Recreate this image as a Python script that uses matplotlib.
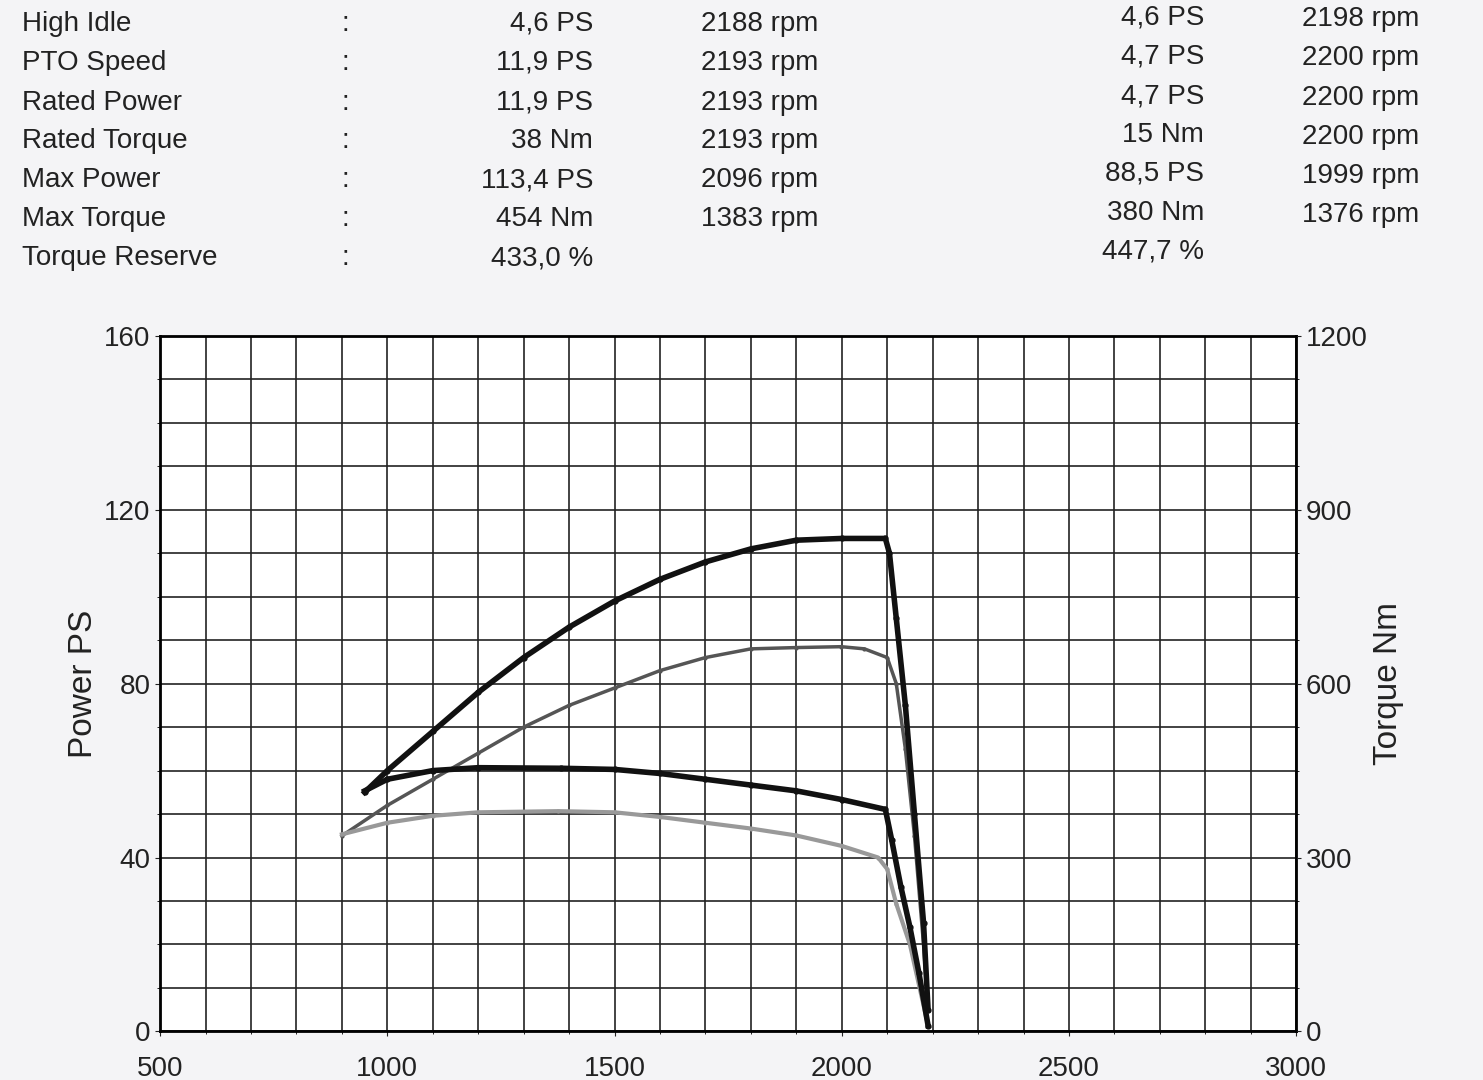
import matplotlib
matplotlib.use("Agg")
import matplotlib.pyplot as plt
import numpy as np

labels = ["High Idle", "PTO Speed", "Rated Power", "Rated Torque", "Max Power", "Max Torque", "Torque Reserve"]
val1 = ["4,6 PS", "11,9 PS", "11,9 PS", "38 Nm", "113,4 PS", "454 Nm", "433,0 %"]
rpm1 = ["2188 rpm", "2193 rpm", "2193 rpm", "2193 rpm", "2096 rpm", "1383 rpm", ""]
val2 = ["4,6 PS", "4,7 PS", "4,7 PS", "15 Nm", "88,5 PS", "380 Nm", "447,7 %"]
rpm2 = ["2198 rpm", "2200 rpm", "2200 rpm", "2200 rpm", "1999 rpm", "1376 rpm", ""]

p1_rpm = [950,1000,1100,1200,1300,1400,1500,1600,1700,1800,1900,2000,2096,2105,2120,2140,2160,2180,2190]
p1_ps  = [55,60,69,78,86,93,99,104,108,111,113,113.4,113.4,110,95,75,50,25,5]
t1_rpm = [950,1000,1100,1200,1383,1500,1600,1700,1800,1900,2000,2096,2110,2130,2150,2170,2190]
t1_nm  = [415,435,450,455,454,452,445,435,425,415,400,383,330,250,180,100,10]
p2_rpm = [900,1000,1100,1200,1300,1400,1500,1600,1700,1800,1900,1999,2050,2100,2120,2140,2160,2180,2190]
p2_ps  = [45,52,58,64,70,75,79,83,86,88,88.3,88.5,88,86,80,65,45,20,5]
t2_rpm = [900,1000,1100,1200,1376,1500,1600,1700,1800,1900,2000,2080,2100,2120,2150,2170,2190]
t2_nm  = [340,360,372,378,380,378,370,360,350,338,320,300,280,220,150,80,10]

plt.rcParams['font.family'] = ['Liberation Sans', 'DejaVu Sans']
fig = plt.figure(figsize=(14.83, 10.8), dpi=100)
fig.patch.set_facecolor('#f4f4f6')

ys = [0.978, 0.942, 0.905, 0.869, 0.833, 0.797, 0.761]
for i, y in enumerate(ys):
    fig.text(0.015, y, labels[i], fontsize=20, va='center', color='#222')
    fig.text(0.23, y, ":", fontsize=20, va='center', color='#222')
    fig.text(0.40, y, val1[i], fontsize=20, va='center', ha='right', color='#222')
    fig.text(0.552, y, rpm1[i], fontsize=20, va='center', ha='right', color='#222')
    fig.text(0.812, y + 0.006, val2[i], fontsize=20, va='center', ha='right', color='#222')
    fig.text(0.957, y + 0.004, rpm2[i], fontsize=20, va='center', ha='right', color='#222')

ax = fig.add_axes([0.108, 0.045, 0.766, 0.644])
ax.set_facecolor('white')
ax.set_xlim(500, 3000)
ax.set_ylim(0, 160)
ax.set_xticks(np.arange(500, 3001, 100), minor=True)
ax.set_xticks([500, 1000, 1500, 2000, 2500, 3000])
ax.set_yticks([0, 40, 80, 120, 160])
ax.set_yticks(np.arange(0, 161, 10), minor=True)
ax.grid(True, which='both', color='#222', linewidth=1.2)
ax.tick_params(labelsize=20, colors='#222')
ax.tick_params(axis='x', pad=14)
ax.set_ylabel("Power PS", fontsize=24, color='#222')
for s in ax.spines.values():
    s.set_linewidth(2)
ax2 = ax.twinx()
ax2.set_ylim(0, 1200)
ax2.set_yticks([0, 300, 600, 900, 1200])
ax2.set_yticks(np.arange(0, 1201, 75), minor=True)
ax2.tick_params(labelsize=20, colors='#222')
ax2.set_ylabel("Torque Nm", fontsize=24, color='#222')

ax2.plot(t2_rpm, t2_nm, color='#999', lw=3, marker='.', ms=4)
ax.plot(p2_rpm, p2_ps, color='#555', lw=2.5, marker='.', ms=4)
ax2.plot(t1_rpm, t1_nm, color='#111', lw=4, marker='.', ms=7)
ax.plot(p1_rpm, p1_ps, color='#111', lw=4, marker='.', ms=7)

fig.savefig("out.png", dpi=100, facecolor=fig.get_facecolor())
